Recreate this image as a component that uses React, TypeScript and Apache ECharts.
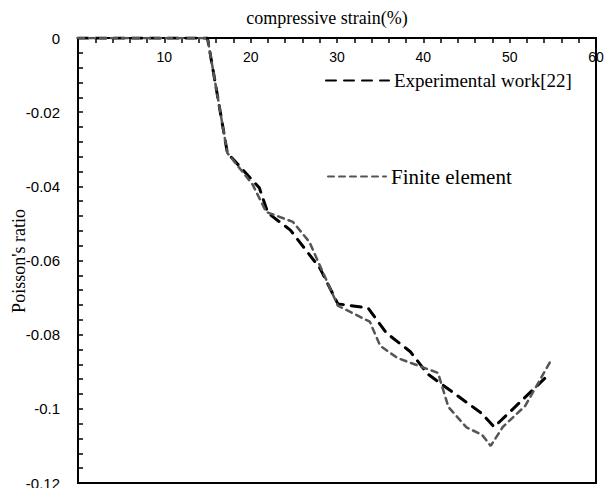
import React, { useEffect, useRef } from "react";
import * as echarts from "echarts";

const expX = [0, 15, 17.3, 21.0, 22.0, 24.6, 28.0, 30.1, 33.6, 35.7, 38.5, 40.5, 46.8, 48.2, 54.6];
const expY = [0, 0, -0.031, -0.0404, -0.0472, -0.0518, -0.062, -0.0717, -0.0728, -0.0795, -0.0846, -0.0906, -0.1013, -0.1049, -0.0906];

const feX = [0, 15, 17.3, 20.2, 21.8, 24.9, 26.8, 30.1, 33.8, 35.0, 37.0, 41.7, 42.9, 45.0, 46.8, 47.8, 49.2, 51.8, 54.7];
const feY = [0, 0, -0.031, -0.0394, -0.0469, -0.0496, -0.055, -0.0722, -0.0765, -0.083, -0.0863, -0.0903, -0.0995, -0.105, -0.107, -0.110, -0.1049, -0.0992, -0.0873];

const seriesNames = ["Experimental work[22]", "Finite element"];
const xTitle = "compressive strain(%)";
const yTitle = "Poisson's ratio";

export default function App() {
  const ref = useRef<HTMLDivElement>(null);
  useEffect(() => {
    if (!ref.current) return;
    const chart = echarts.init(ref.current, null, { renderer: "svg" });
    const serif = "Liberation Serif";
    const sans = "Liberation Sans";
    chart.setOption({
      animation: false,
      backgroundColor: "#fff",
      grid: {
        left: 78,
        right: 8,
        top: 38,
        bottom: 5,
        outerBoundsMode: "none",
        containLabel: false,
        show: true,
        borderColor: "#000",
        borderWidth: 2,
        backgroundColor: "transparent",
      },
      graphic: [
        {
          type: "text",
          x: 327,
          y: 18,
          style: {
            text: xTitle,
            fontFamily: serif,
            fontSize: 18,
            fill: "#000",
            textAlign: "center",
            textVerticalAlign: "middle",
          },
        },
        {
          type: "text",
          x: 19,
          y: 261,
          rotation: Math.PI / 2,
          style: {
            text: yTitle,
            fontFamily: serif,
            fontSize: 18,
            fill: "#000",
            textAlign: "center",
            textVerticalAlign: "middle",
          },
        },
      ],
      legend: [
        {
          data: [seriesNames[0]],
          left: 320,
          top: 66,
          itemWidth: 63,
          itemHeight: 14,
          itemGap: 0,
          itemStyle: { opacity: 0 },
          textStyle: { fontFamily: serif, fontSize: 19, color: "#000" },
        },
        {
          data: [seriesNames[1]],
          left: 322,
          top: 161,
          itemWidth: 58,
          itemHeight: 14,
          itemGap: 0,
          itemStyle: { opacity: 0 },
          textStyle: { fontFamily: serif, fontSize: 21, color: "#000" },
        },
      ],
      xAxis: {
        type: "value",
        position: "top",
        min: 0,
        max: 60,
        interval: 10,
        splitLine: { show: false },
        axisLine: { show: true, onZero: false, lineStyle: { color: "#000", width: 2 } },
        axisTick: { show: true, inside: true, length: 5, lineStyle: { color: "#000", width: 1.5 } },
        minorTick: { show: true, splitNumber: 5, length: 5, lineStyle: { color: "#000", width: 1.5 } },
        axisLabel: {
          inside: true,
          margin: 12,
          fontFamily: sans,
          fontSize: 14,
          color: "#000",
          formatter: (v: number) => (v === 0 ? "" : String(v)),
        },
      },
      yAxis: {
        type: "value",
        min: -0.12,
        max: 0,
        interval: 0.02,
        splitLine: { show: false },
        axisLine: { show: true, onZero: false, lineStyle: { color: "#000", width: 2 } },
        axisTick: { show: true, inside: true, length: 5, lineStyle: { color: "#000", width: 1.5 } },
        minorTick: { show: true, splitNumber: 5, length: 5, lineStyle: { color: "#000", width: 1.5 } },
        axisLabel: {
          margin: 18,
          fontFamily: sans,
          fontSize: 15,
          color: "#000",
        },
      },
      series: [
        {
          name: seriesNames[0],
          type: "line",
          data: expX.map((x, i) => [x, expY[i]]),
          symbol: "none",
          lineStyle: { color: "#000", width: 3, type: [10, 8], cap: "round" },
          itemStyle: { color: "#000" },
          z: 2,
        },
        {
          name: seriesNames[1],
          type: "line",
          data: feX.map((x, i) => [x, feY[i]]),
          symbol: "none",
          lineStyle: { color: "#555", width: 2.5, type: [6, 5], cap: "round" },
          itemStyle: { color: "#555" },
          z: 3,
        },
      ],
    });
    return () => chart.dispose();
  }, []);
  return <div ref={ref} style={{ width: 604, height: 488, position: "absolute", left: 0, top: 0 }} />;
}
